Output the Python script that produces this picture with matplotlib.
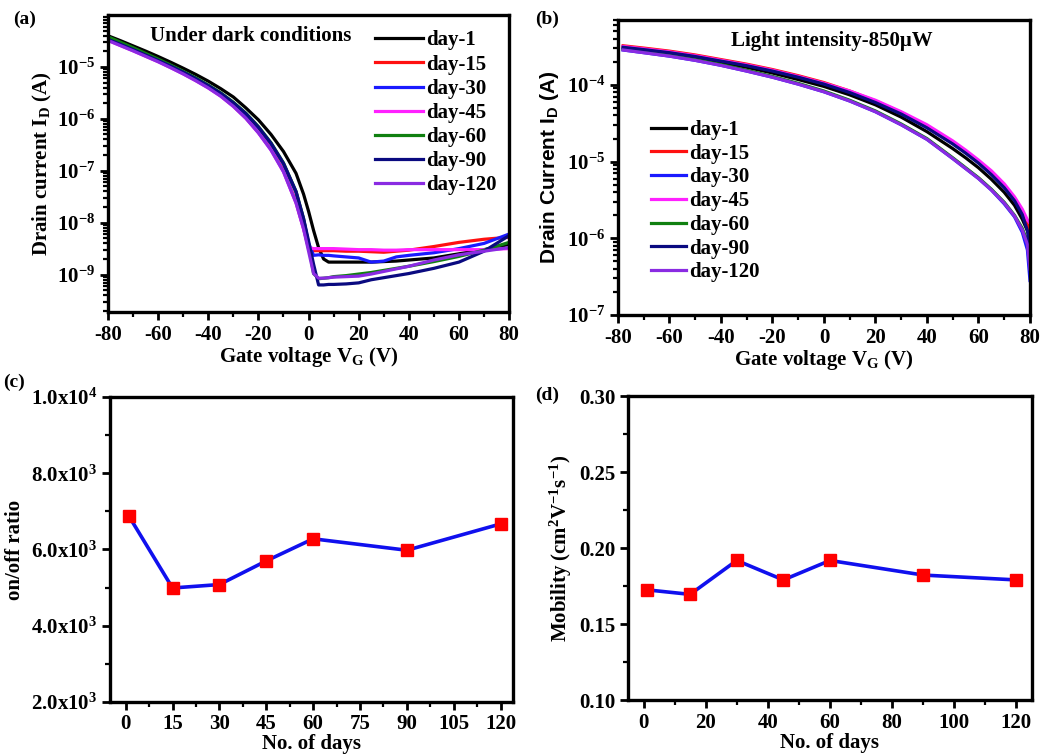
import numpy as np
import matplotlib
matplotlib.use('Agg')
import matplotlib.pyplot as plt
from matplotlib.ticker import FuncFormatter, MultipleLocator, LogLocator, NullFormatter

plt.rcParams['font.family'] = ['Liberation Serif', 'DejaVu Serif']
plt.rcParams['font.weight'] = 'bold'
plt.rcParams['font.size'] = 15
plt.rcParams['axes.unicode_minus'] = False
plt.rcParams['mathtext.fontset'] = 'custom'
plt.rcParams['mathtext.rm'] = 'Liberation Serif:bold'
plt.rcParams['mathtext.it'] = 'Liberation Serif:bold:italic'
plt.rcParams['mathtext.bf'] = 'Liberation Serif:bold'
plt.rcParams['mathtext.sf'] = 'Liberation Sans:bold'
plt.rcParams['axes.linewidth'] = 2.4

labels = ['day-1', 'day-15', 'day-30', 'day-45', 'day-60', 'day-90', 'day-120']
colors = ['#000000', '#ff1010', '#1a1aff', '#ff20ff', '#108010', '#0a0a80', '#8a2be2']

# (a) transfer curves in the dark, log10(I_D / A)
vg_dark = [-80, -75, -70, -65, -60, -55, -50, -45, -40, -35, -30, -25, -20, -15, -10, -5, -2,
           0, 2, 4, 6, 8, 10, 15, 20, 25, 30, 35, 40, 50, 60, 70, 80]
dark_day1 = [-4.40, -4.495, -4.595, -4.695, -4.80, -4.91, -5.025, -5.145, -5.275, -5.42, -5.58,
             -5.79, -6.02, -6.30, -6.63, -7.05, -7.45, -7.78, -8.15, -8.48, -8.70, -8.76, -8.76,
             -8.76, -8.76, -8.76, -8.75, -8.74, -8.72, -8.68, -8.60, -8.52, -8.42]
dark_day15 = [-4.48, -4.58, -4.68, -4.785, -4.89, -5.005, -5.125, -5.255, -5.395, -5.555, -5.75,
              -5.98, -6.26, -6.58, -7.00, -7.60, -8.10, -8.50, -8.54, -8.54, -8.54, -8.54, -8.54,
              -8.55, -8.55, -8.56, -8.57, -8.55, -8.53, -8.46, -8.38, -8.32, -8.28]
dark_day30 = [-4.47, -4.57, -4.67, -4.775, -4.88, -4.99, -5.11, -5.235, -5.37, -5.52, -5.70,
              -5.91, -6.17, -6.48, -6.87, -7.42, -7.95, -8.40, -8.63, -8.62, -8.63, -8.63, -8.64,
              -8.66, -8.68, -8.76, -8.74, -8.66, -8.63, -8.58, -8.50, -8.40, -8.22]
dark_day45 = [-4.49, -4.59, -4.69, -4.795, -4.90, -5.015, -5.135, -5.265, -5.405, -5.565, -5.76,
              -5.99, -6.27, -6.60, -7.02, -7.62, -8.12, -8.48, -8.50, -8.50, -8.50, -8.50, -8.50,
              -8.51, -8.52, -8.52, -8.53, -8.53, -8.52, -8.52, -8.52, -8.52, -8.50]
dark_day60 = [-4.42, -4.525, -4.63, -4.74, -4.85, -4.965, -5.085, -5.21, -5.35, -5.50, -5.68,
              -5.89, -6.15, -6.46, -6.85, -7.40, -7.92, -8.42, -8.98, -9.08, -9.07, -9.06, -9.04,
              -9.02, -8.99, -8.96, -8.92, -8.88, -8.84, -8.75, -8.65, -8.53, -8.38]
dark_day90 = [-4.47, -4.565, -4.665, -4.77, -4.875, -4.985, -5.10, -5.225, -5.36, -5.51, -5.69,
              -5.90, -6.16, -6.47, -6.86, -7.40, -7.92, -8.35, -8.80, -9.20, -9.20, -9.19, -9.19,
              -9.18, -9.16, -9.10, -9.06, -9.02, -8.98, -8.88, -8.76, -8.55, -8.25]
dark_day120 = [-4.49, -4.59, -4.69, -4.795, -4.90, -5.015, -5.135, -5.265, -5.405, -5.565, -5.76,
               -5.99, -6.27, -6.60, -7.02, -7.62, -8.12, -8.55, -8.98, -9.07, -9.07, -9.06, -9.05,
               -9.04, -9.03, -8.99, -8.94, -8.89, -8.84, -8.72, -8.62, -8.55, -8.48]

# (b) transfer curves under 850 uW light, log10(I_D / A)
vg_light = [-78, -70, -60, -50, -40, -30, -20, -10, 0, 10, 20, 30, 40, 50, 55, 60, 65, 70, 74,
            77, 79, 80]
light_day1 = [-3.52, -3.55, -3.59, -3.645, -3.705, -3.77, -3.845, -3.93, -4.02, -4.13, -4.26,
              -4.42, -4.61, -4.83, -4.95, -5.08, -5.23, -5.40, -5.57, -5.75, -5.90, -5.95]
light_day15 = [-3.49, -3.52, -3.56, -3.61, -3.67, -3.73, -3.80, -3.88, -3.97, -4.08, -4.21,
               -4.36, -4.54, -4.75, -4.87, -5.00, -5.15, -5.32, -5.49, -5.66, -5.82, -5.90]
light_day30 = [-3.545, -3.58, -3.625, -3.68, -3.745, -3.82, -3.90, -3.99, -4.09, -4.21, -4.35,
               -4.52, -4.71, -4.96, -5.09, -5.22, -5.37, -5.55, -5.72, -5.92, -6.15, -6.55]
light_day45 = [-3.50, -3.53, -3.57, -3.62, -3.68, -3.74, -3.81, -3.89, -3.98, -4.08, -4.20,
               -4.35, -4.52, -4.73, -4.85, -4.98, -5.12, -5.29, -5.46, -5.62, -5.76, -5.80]
light_day60 = [-3.535, -3.57, -3.615, -3.67, -3.735, -3.81, -3.89, -3.98, -4.08, -4.20, -4.34,
               -4.51, -4.70, -4.95, -5.08, -5.21, -5.36, -5.53, -5.70, -5.87, -6.04, -6.30]
light_day90 = [-3.51, -3.54, -3.58, -3.63, -3.69, -3.75, -3.82, -3.90, -3.99, -4.10, -4.23,
               -4.38, -4.56, -4.77, -4.89, -5.02, -5.17, -5.34, -5.51, -5.69, -5.90, -6.15]
light_day120 = [-3.545, -3.58, -3.625, -3.68, -3.745, -3.82, -3.90, -3.99, -4.09, -4.21, -4.35,
                -4.52, -4.71, -4.96, -5.09, -5.22, -5.37, -5.54, -5.71, -5.89, -6.08, -6.40]

# (c), (d) stability vs days
days = [1, 15, 30, 45, 60, 90, 120]
on_off = [6880, 4990, 5080, 5700, 6280, 5980, 6670]
mobility = [0.1725, 0.1695, 0.1918, 0.1790, 0.1918, 0.1822, 0.1790]

dark = [dark_day1, dark_day15, dark_day30, dark_day45, dark_day60, dark_day90, dark_day120]
light = [light_day1, light_day15, light_day30, light_day45, light_day60, light_day90, light_day120]

fig = plt.figure(figsize=(10.54, 7.54), dpi=100)
ax_a = fig.add_axes([0.1025, 0.5862, 0.3805, 0.3939])
ax_b = fig.add_axes([0.5863, 0.5822, 0.3909, 0.3912])
ax_c = fig.add_axes([0.1044, 0.0690, 0.3824, 0.4045])
ax_d = fig.add_axes([0.5958, 0.0716, 0.3833, 0.4032])


def style(ax):
    ax.tick_params(which='major', direction='out', length=6, width=2, labelsize=15, pad=3)
    ax.tick_params(which='minor', direction='out', length=3.5, width=1.6)


def pow_fmt(v, pos):
    if v <= 0:
        return ''
    return r'$10^{%d}$' % int(round(np.log10(v)))


def sci_fmt(v, pos):
    if v <= 0:
        return ''
    e = int(np.floor(np.log10(v)))
    return r'$%.1f\mathrm{x}10^{%d}$' % (v / 10 ** e, e)


# ---- (a)
for y, c, lab in zip(dark, colors, labels):
    ax_a.plot(vg_dark, 10 ** np.array(y), color=c, lw=2.3, label=lab)
ax_a.set_yscale('log')
ax_a.set_xlim(-80, 80)
ax_a.set_ylim(1.9e-10, 1e-4)
ax_a.set_yticks([1e-9, 1e-8, 1e-7, 1e-6, 1e-5])
ax_a.yaxis.set_major_formatter(FuncFormatter(pow_fmt))
ax_a.yaxis.set_minor_locator(LogLocator(base=10, subs=np.arange(2, 10), numticks=20))
ax_a.yaxis.set_minor_formatter(NullFormatter())
ax_a.xaxis.set_major_locator(MultipleLocator(20))
ax_a.xaxis.set_minor_locator(MultipleLocator(10))
ax_a.set_xlabel(r'Gate voltage V$_\mathrm{G}$ (V)', fontweight='bold', fontsize=15, labelpad=0)
ax_a.set_ylabel(r'Drain current I$_\mathrm{D}$ (A)', fontweight='bold', fontsize=15, labelpad=2)
ax_a.text(0.105, 0.93, 'Under dark conditions', transform=ax_a.transAxes,
          fontsize=15, fontweight='bold', va='center')
ax_a.legend(loc='upper right', bbox_to_anchor=(1.0, 0.99), frameon=False,
            handlelength=2.3, handletextpad=0.15, labelspacing=0.2, borderaxespad=0.2,
            prop={'weight': 'bold', 'size': 15})
style(ax_a)

# ---- (b)
for y, c, lab in zip(light, colors, labels):
    ax_b.plot(vg_light, 10 ** np.array(y), color=c, lw=2.3, label=lab)
ax_b.set_yscale('log')
ax_b.set_xlim(-80, 80)
ax_b.set_ylim(1e-7, 7e-4)
ax_b.set_yticks([1e-7, 1e-6, 1e-5, 1e-4])
ax_b.yaxis.set_major_formatter(FuncFormatter(pow_fmt))
ax_b.yaxis.set_minor_locator(LogLocator(base=10, subs=np.arange(2, 10), numticks=20))
ax_b.yaxis.set_minor_formatter(NullFormatter())
ax_b.xaxis.set_major_locator(MultipleLocator(20))
ax_b.xaxis.set_minor_locator(MultipleLocator(10))
ax_b.set_xlabel(r'Gate voltage V$_\mathrm{G}$ (V)', fontweight='bold', fontsize=15, labelpad=0)
ax_b.set_ylabel(r'Drain Current I$_\mathsf{D}$ (A)', fontfamily='Liberation Sans',
                fontweight='bold', fontsize=15, labelpad=4)
ax_b.text(0.52, 0.93, 'Light intensity-850\u03bcW', transform=ax_b.transAxes,
          fontsize=15, fontweight='bold', va='center', ha='center')
ax_b.legend(loc='upper left', bbox_to_anchor=(0.06, 0.69), frameon=False,
            handlelength=1.7, handletextpad=0.15, labelspacing=0.18, borderaxespad=0.0,
            prop={'weight': 'bold', 'size': 15})
style(ax_b)

# ---- (c)
ax_c.plot(days, on_off, color='#1010ee', lw=2.6, marker='s', ms=9,
          mfc='#ff0000', mec='#ff0000')
ax_c.set_xlim(-5, 124)
ax_c.set_ylim(2000, 10000)
ax_c.xaxis.set_major_locator(MultipleLocator(15))
ax_c.xaxis.set_minor_locator(MultipleLocator(7.5))
ax_c.yaxis.set_major_locator(MultipleLocator(2000))
ax_c.yaxis.set_minor_locator(MultipleLocator(1000))
ax_c.yaxis.set_major_formatter(FuncFormatter(sci_fmt))
ax_c.set_xlabel('No. of days', fontweight='bold', fontsize=15, labelpad=0)
ax_c.set_ylabel('on/off ratio', fontweight='bold', fontsize=15, labelpad=4)
style(ax_c)

# ---- (d)
ax_d.plot(days, mobility, color='#1010ee', lw=2.6, marker='s', ms=9,
          mfc='#ff0000', mec='#ff0000')
ax_d.set_xlim(-5, 125)
ax_d.set_ylim(0.10, 0.30)
ax_d.xaxis.set_major_locator(MultipleLocator(20))
ax_d.xaxis.set_minor_locator(MultipleLocator(10))
ax_d.yaxis.set_major_locator(MultipleLocator(0.05))
ax_d.yaxis.set_minor_locator(MultipleLocator(0.025))
ax_d.yaxis.set_major_formatter(FuncFormatter(lambda v, p: '%.2f' % v))
ax_d.set_xlabel('No. of days', fontweight='bold', fontsize=15, labelpad=0)
ax_d.set_ylabel(r'Mobility (cm$^2$V$^{-1}$s$^{-1}$)', fontweight='bold', fontsize=15, labelpad=4)
style(ax_d)

# panel letters
for x, y, t in [(0.012, 0.975, '(a)'), (0.508, 0.975, '(b)'),
                (0.003, 0.493, '(c)'), (0.508, 0.476, '(d)')]:
    fig.text(x, y, t, fontsize=14, fontweight='bold', va='center')

fig.savefig('out.png', dpi=100)
